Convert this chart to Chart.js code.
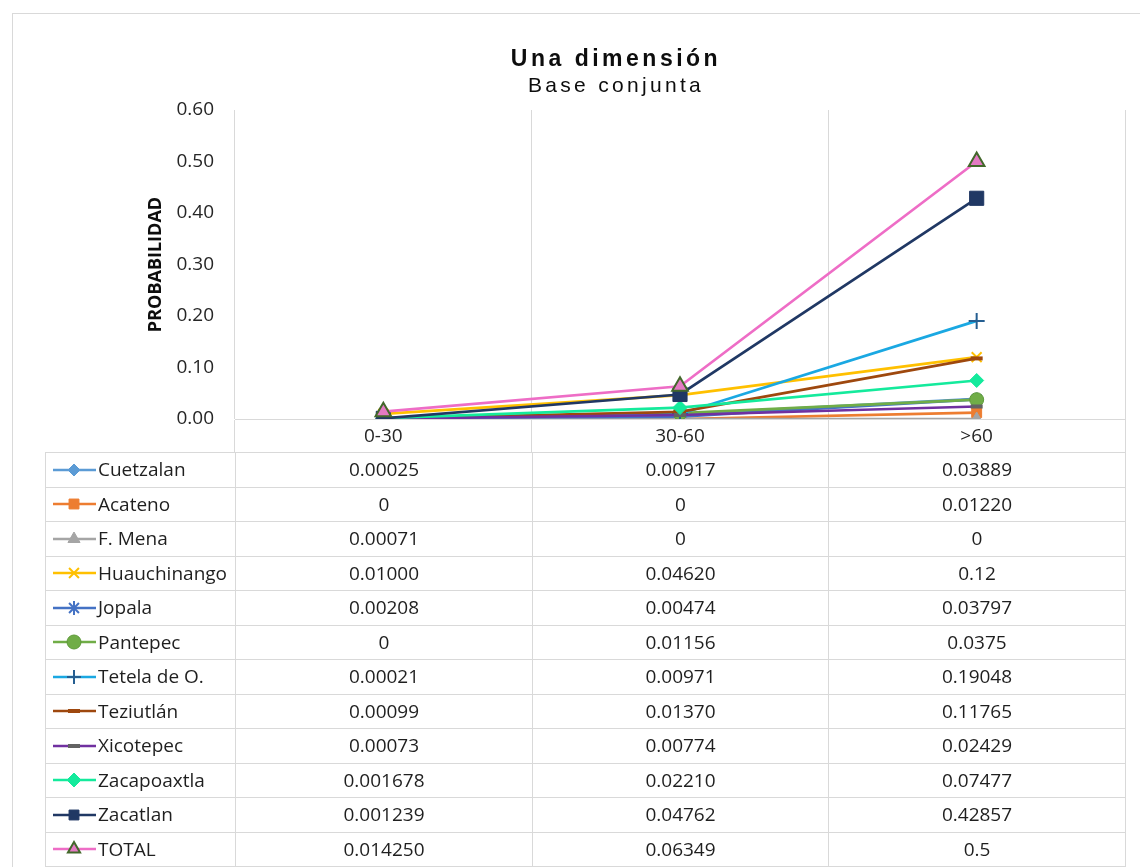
<!DOCTYPE html>
<html>
<head>
<meta charset="utf-8">
<script src="https://cdn.jsdelivr.net/npm/chart.js@4.4.1/dist/chart.umd.min.js"></script>
<style>
  body { margin: 0; background: #fff; width: 1140px; height: 867px; overflow: hidden; position: relative; font-family: 'Open Sans', sans-serif; color: #1f1f1f; }
  #frame { position: absolute; left: 12px; top: 13px; width: 1200px; height: 900px; border: 1px solid #d9d9d9; box-sizing: border-box; }
  #cv { position: absolute; left: 0; top: 0; }
  .ttl { position: absolute; left: 12px; width: 1208px; text-align: center; font-family: 'Liberation Sans', Arial, sans-serif; color: #0d0d0d; white-space: nowrap; }
  #t1 { top: 44px; font-size: 23px; font-weight: bold; letter-spacing: 3.5px; line-height: 28px; }
  #t2 { top: 72px; font-size: 21px; letter-spacing: 3.3px; line-height: 26px; }
  #tbl { position: absolute; left: 45px; top: 452px; border-collapse: collapse; table-layout: fixed; width: 1081px; }
  #tbl td { border: 1px solid #d9d9d9; padding: 0; text-align: center; font-size: 19px; line-height: 1; color: #1f1f1f; }
  #tbl tr { height: 34.5px; }
  #tbl td.name { text-align: left; }
  .key { display: flex; align-items: center; white-space: nowrap; }
  .key canvas { margin-left: 5px; margin-right: 1px; }
</style>
</head>
<body>
<div id="frame"></div>
<canvas id="cv" width="1140" height="452"></canvas>
<div class="ttl" id="t1">Una dimensión</div>
<div class="ttl" id="t2">Base conjunta</div>
<table id="tbl">
  <colgroup><col style="width:190px"><col style="width:297px"><col style="width:296px"><col style="width:297px"></colgroup>
  <tbody></tbody>
</table>
<script>
const categories = ['0-30', '30-60', '>60'];
const yTicks = [0, 0.1, 0.2, 0.3, 0.4, 0.5, 0.6];

// values as printed in the data table
const cuetzalan   = ['0.00025', '0.00917', '0.03889'];
const acateno     = ['0', '0', '0.01220'];
const fMena       = ['0.00071', '0', '0'];
const huauchinango = ['0.01000', '0.04620', '0.12'];
const jopala      = ['0.00208', '0.00474', '0.03797'];
const pantepec    = ['0', '0.01156', '0.0375'];
const tetela      = ['0.00021', '0.00971', '0.19048'];
const teziutlan   = ['0.00099', '0.01370', '0.11765'];
const xicotepec   = ['0.00073', '0.00774', '0.02429'];
const zacapoaxtla = ['0.001678', '0.02210', '0.07477'];
const zacatlan    = ['0.001239', '0.04762', '0.42857'];
const total       = ['0.014250', '0.06349', '0.5'];

const seriesNames = ['Cuetzalan', 'Acateno', 'F. Mena', 'Huauchinango', 'Jopala', 'Pantepec',
  'Tetela de O.', 'Teziutlán', 'Xicotepec', 'Zacapoaxtla', 'Zacatlan', 'TOTAL'];
const seriesValues = [cuetzalan, acateno, fMena, huauchinango, jopala, pantepec,
  tetela, teziutlan, xicotepec, zacapoaxtla, zacatlan, total];

// line colour, marker fill, marker border, marker style, marker radius, marker border width
const styles = [
  ['#5B9BD5', '#5B9BD5', '#5B9BD5', 'rectRot', 6, 1],
  ['#ED7D31', '#ED7D31', '#ED7D31', 'rect', 7, 1],
  ['#A5A5A5', '#A5A5A5', '#A5A5A5', 'triangle', 7, 1],
  ['#FFC000', 'transparent', '#FFC000', 'crossRot', 7, 2],
  ['#4472C4', 'transparent', '#4472C4', 'star', 7, 2],
  ['#70AD47', '#70AD47', '#5E9A3A', 'circle', 7, 1],
  ['#1AA8E2', 'transparent', '#255E91', 'cross', 8, 2],
  ['#9E480E', '#9E480E', '#9E480E', 'line', 6, 4],
  ['#7030A0', '#636363', '#636363', 'line', 6, 4],
  ['#14EA9C', '#14EA9C', '#14EA9C', 'rectRot', 7, 1],
  ['#203864', '#203864', '#203864', 'rect', 10, 1],
  ['#EE6DC6', '#E47AC3', '#43682B', 'triangle', 9, 2]
];

const datasets = seriesNames.map((name, i) => {
  const s = styles[i];
  return {
    label: name,
    data: seriesValues[i].map(Number),
    borderColor: s[0],
    backgroundColor: s[1],
    pointBackgroundColor: s[1],
    pointBorderColor: s[2],
    pointStyle: s[3],
    pointRadius: s[4],
    pointHoverRadius: s[4],
    pointBorderWidth: s[5],
    borderWidth: 2.7,
    tension: 0,
    order: seriesNames.length - i
  };
});

const gridColor = '#d9d9d9';
const textColor = '#262626';

new Chart(document.getElementById('cv'), {
  type: 'line',
  data: { labels: categories, datasets },
  options: {
    responsive: false,
    animation: false,
    layout: { padding: { top: 110, right: 15, left: 0, bottom: 0 } },
    plugins: { legend: { display: false }, tooltip: { enabled: false } },
    scales: {
      x: {
        offset: true,
        grid: { offset: true, color: gridColor, lineWidth: 1, drawTicks: true, tickLength: 33, tickColor: gridColor },
        border: { color: gridColor, width: 1 },
        ticks: { color: textColor, font: { family: 'Open Sans', size: 19 }, padding: -27, maxRotation: 0 },
        afterFit: s => { s.height = 33; }
      },
      y: {
        min: 0,
        max: 0.6,
        afterBuildTicks: s => { s.ticks = yTicks.map(v => ({ value: v })); },
        grid: { display: false, drawTicks: false },
        border: { display: false },
        ticks: { color: textColor, font: { family: 'Open Sans', size: 19 }, padding: 21, callback: v => Number(v).toFixed(2) },
        title: { display: true, text: 'PROBABILIDAD', color: '#0d0d0d', font: { family: 'Open Sans', size: 18, weight: 'bold' }, padding: { top: 145, bottom: 0 } },
        afterFit: s => { s.width = 235; }
      }
    }
  }
});

// data table with legend keys
const tbody = document.querySelector('#tbl tbody');
seriesNames.forEach((name, i) => {
  const tr = document.createElement('tr');
  const nameTd = document.createElement('td');
  nameTd.className = 'name';
  const wrap = document.createElement('div');
  wrap.className = 'key';
  const kc = document.createElement('canvas');
  kc.width = 46; kc.height = 24;
  const ctx = kc.getContext('2d');
  const s = styles[i];
  ctx.strokeStyle = s[0];
  ctx.lineWidth = 2.5;
  ctx.beginPath(); ctx.moveTo(2, 12); ctx.lineTo(45, 12); ctx.stroke();
  ctx.fillStyle = s[1];
  ctx.strokeStyle = s[2];
  ctx.lineWidth = s[5];
  Chart.helpers.drawPoint(ctx, { pointStyle: s[3], radius: Math.min(s[4], 7), borderWidth: s[5], rotation: 0 }, 23, 12);
  wrap.appendChild(kc);
  const span = document.createElement('span');
  span.textContent = name;
  wrap.appendChild(span);
  nameTd.appendChild(wrap);
  tr.appendChild(nameTd);
  seriesValues[i].forEach(v => {
    const td = document.createElement('td');
    td.textContent = v;
    tr.appendChild(td);
  });
  tbody.appendChild(tr);
});
</script>
</body>
</html>
